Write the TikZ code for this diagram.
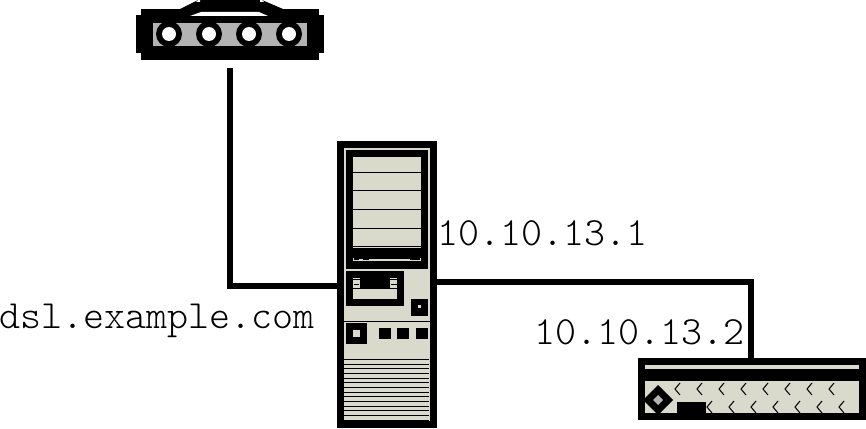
\documentclass[tikz,border=0pt]{standalone}
\usepackage{tikz}
\usetikzlibrary{positioning}
\definecolor{panel}{HTML}{D9D9CC}
\definecolor{band}{HTML}{B3B3B3}

\begin{document}
\begin{tikzpicture}[
  x=1pt, y=-1pt,
  hwbody/.style = {fill=black, inner sep=0pt, outer sep=0pt},
  addr/.style   = {inner sep=0pt, anchor=base west, font=\fontsize{40}{40}\ttfamily\fontseries{l}\selectfont},
  link/.style   = {line width=6.5pt, line join=miter}
]
  \useasboundingbox (0,0) rectangle (866,428);

  % Router
  \node[hwbody, minimum width=178pt, minimum height=51pt] (router) at (230,34.5) {};
  \fill (136,15) rectangle (324,53);
  \fill (180,9) -- (198,0) -- (262,0) -- (283,9) -- cycle;
  \fill[white] (190,16) -- (201,12) -- (259,12) -- (268,16) -- cycle;
  \fill[white] (198,0) -- (200,0) -- (200,2) -- (196,2) -- cycle;
  \fill[white] (262,0) -- (260,0) -- (260,2) -- (264,2) -- cycle;
  \fill[band] (153,23) rectangle (307,46);
  \foreach \x in {169,209,249,289} {
    \fill (\x,34) circle (13);
    \fill[white] (\x,34) circle (7);
  }

  % Server
  \node[hwbody, minimum width=100pt, minimum height=287pt] (server) at (387,284.5) {};
  \fill[panel] (344,148) rectangle (430,421);
  \fill (346,150) rectangle (428,269);
  \fill[panel] (353,157) rectangle (421,248);
  \foreach \y in {172,190,209,228} {
    \fill (353,\y) rectangle (421,\y+1);
  }
  \fill (353,246) rectangle (421,247);
  \fill[panel] (353,260) rectangle (421,261);
  \fill[panel] (353,258) rectangle (354,260);
  \fill[panel] (359,259) rectangle (363,260);
  \fill[panel] (369,259) rectangle (410,260);
  \fill[panel] (420,258) rectangle (421,260);
  % Drive bay
  \fill (346,271) rectangle (404,306);
  \fill[panel] (353,289) rectangle (397,299);
  \foreach \x in {353,390} {
    \fill[panel] (\x,278) rectangle (\x+7,288);
    \fill (\x,279) rectangle (\x+7,280);
  }
  \fill (354,284) rectangle (359,285);
  \fill (391,284) rectangle (397,285);
  % Front controls
  \fill (411,299) rectangle (428,316);
  \fill[panel] (418,305) rectangle (421,308);
  \fill (344,321) rectangle (430,322);
  \fill (346,323) rectangle (367,344);
  \fill[panel] (353,330) rectangle (360,337);
  \foreach \x in {379,397,416} {
    \fill (\x,328) rectangle (\x+12,339);
  }
  % Vent lines
  \foreach \y in {359,364,368,373,378,382,387,392,396,401,406,410,415,420} {
    \fill (344,\y) rectangle (429,\y+1);
  }

  % Switch
  \node[hwbody, minimum width=228pt, minimum height=62pt] (switch) at (752,389) {};
  \fill[panel] (645,365) rectangle (859,369);
  \fill[panel] (645,381) rectangle (859,413);
  \fill (658,385) -- (673,400) -- (658,415) -- (643,400) -- cycle;
  \fill[band] (658,395) -- (663,400) -- (658,405) -- (653,400) -- cycle;
  \fill (677,402) rectangle (706,413);
  \foreach \x in {675,697,...,829} {
    \draw[line width=1pt] (\x+5,383) -- (\x,389) -- (\x+5,395);
  }
  \foreach \x in {707,729,...,839} {
    \draw[line width=1pt] (\x+5,401) -- (\x,407) -- (\x+5,413);
  }

  % Connections
  \coordinate (routerport) at (230,68);
  \coordinate (dslport) at (server.west |- 0,286);
  \coordinate (lanport) at (server.east |- 0,282);
  \coordinate (switchport) at (751,358);
  \draw[link] (routerport) |- (dslport);
  \draw[link] (lanport) -| (switchport);

  % Addresses
  \node[addr] (wanaddr) at (-1,328) {dsl.example.com};
  \node[addr] (srvaddr) at (437,245) {10.10.13.1};
  \node[addr] (swaddr) at (534,344) {10.10.13.2};
\end{tikzpicture}
\end{document}
